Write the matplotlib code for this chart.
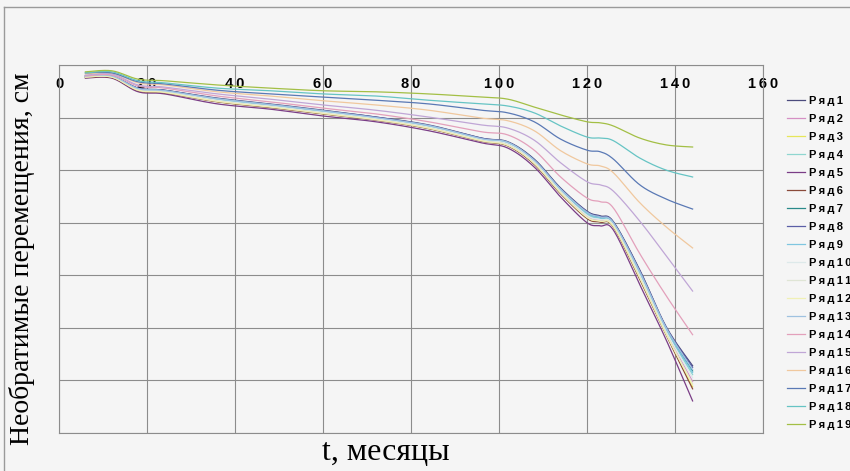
import numpy as np
import matplotlib.pyplot as plt
from matplotlib.lines import Line2D

# months of observation
t = [6, 12, 18, 24, 36, 48, 60, 72, 84, 96, 102, 108, 114, 120, 123, 126, 132, 138, 144]

# irreversible displacement (magnitude, grid units)
ryad1 = [0.21, 0.21, 0.44, 0.48, 0.63, 0.74, 0.86, 0.99, 1.14, 1.39, 1.46, 1.79, 2.34, 2.78, 2.87, 2.98, 3.90, 4.98, 5.72]
ryad2 = [0.23, 0.23, 0.47, 0.51, 0.68, 0.79, 0.91, 1.03, 1.19, 1.43, 1.51, 1.86, 2.42, 2.88, 2.96, 3.05, 4.03, 5.09, 6.02]
ryad3 = [0.23, 0.23, 0.48, 0.52, 0.70, 0.80, 0.93, 1.04, 1.21, 1.44, 1.53, 1.88, 2.44, 2.91, 2.98, 3.08, 4.07, 5.13, 6.12]
ryad4 = [0.22, 0.22, 0.46, 0.50, 0.66, 0.77, 0.89, 1.01, 1.17, 1.41, 1.49, 1.83, 2.38, 2.84, 2.92, 3.02, 3.97, 5.04, 5.89]
ryad5 = [0.25, 0.25, 0.51, 0.55, 0.74, 0.84, 0.97, 1.08, 1.25, 1.48, 1.58, 1.94, 2.51, 3.00, 3.06, 3.14, 4.18, 5.23, 6.39]
ryad6 = [0.24, 0.24, 0.49, 0.53, 0.70, 0.81, 0.93, 1.05, 1.21, 1.45, 1.54, 1.89, 2.45, 2.92, 2.99, 3.08, 4.08, 5.14, 6.16]
ryad7 = [0.22, 0.22, 0.45, 0.49, 0.65, 0.76, 0.88, 1.00, 1.16, 1.40, 1.48, 1.81, 2.37, 2.81, 2.90, 3.00, 3.94, 5.02, 5.82]
ryad8 = [0.21, 0.21, 0.44, 0.48, 0.64, 0.75, 0.87, 0.99, 1.15, 1.39, 1.47, 1.80, 2.35, 2.79, 2.88, 2.99, 3.91, 4.99, 5.75]
ryad9 = [0.22, 0.22, 0.45, 0.49, 0.65, 0.76, 0.88, 1.01, 1.16, 1.41, 1.48, 1.82, 2.37, 2.82, 2.91, 3.01, 3.96, 5.03, 5.85]
ryad10 = [0.22, 0.22, 0.46, 0.50, 0.67, 0.78, 0.90, 1.02, 1.18, 1.42, 1.50, 1.84, 2.40, 2.86, 2.94, 3.04, 4.00, 5.07, 5.95]
ryad11 = [0.23, 0.23, 0.48, 0.52, 0.69, 0.79, 0.92, 1.04, 1.20, 1.44, 1.52, 1.87, 2.43, 2.89, 2.97, 3.06, 4.04, 5.11, 6.06]
ryad12 = [0.23, 0.23, 0.48, 0.52, 0.69, 0.80, 0.92, 1.04, 1.20, 1.44, 1.53, 1.87, 2.43, 2.90, 2.97, 3.07, 4.05, 5.12, 6.09]
ryad13 = [0.21, 0.21, 0.45, 0.49, 0.64, 0.75, 0.87, 1.00, 1.15, 1.40, 1.47, 1.81, 2.36, 2.80, 2.89, 3.00, 3.93, 5.00, 5.79]
ryad14 = [0.21, 0.19, 0.40, 0.44, 0.59, 0.70, 0.82, 0.93, 1.08, 1.27, 1.33, 1.62, 2.13, 2.53, 2.60, 2.72, 3.59, 4.39, 5.13]
ryad15 = [0.19, 0.17, 0.38, 0.42, 0.55, 0.65, 0.76, 0.86, 0.99, 1.14, 1.20, 1.43, 1.86, 2.22, 2.28, 2.40, 2.97, 3.63, 4.30]
ryad16 = [0.17, 0.15, 0.34, 0.38, 0.51, 0.59, 0.68, 0.76, 0.86, 1.01, 1.06, 1.25, 1.63, 1.88, 1.92, 2.05, 2.62, 3.08, 3.48]
ryad17 = [0.15, 0.15, 0.32, 0.36, 0.48, 0.55, 0.61, 0.67, 0.74, 0.86, 0.91, 1.08, 1.41, 1.62, 1.65, 1.79, 2.28, 2.55, 2.74]
ryad18 = [0.15, 0.13, 0.30, 0.34, 0.44, 0.49, 0.55, 0.59, 0.67, 0.74, 0.78, 0.91, 1.16, 1.37, 1.39, 1.44, 1.77, 2.00, 2.13]
ryad19 = [0.13, 0.11, 0.27, 0.30, 0.38, 0.44, 0.49, 0.51, 0.55, 0.61, 0.65, 0.80, 0.95, 1.08, 1.10, 1.16, 1.39, 1.52, 1.56]

series = [ryad1, ryad2, ryad3, ryad4, ryad5, ryad6, ryad7, ryad8, ryad9, ryad10,
          ryad11, ryad12, ryad13, ryad14, ryad15, ryad16, ryad17, ryad18, ryad19]
names = ['Ряд' + str(i) for i in range(1, 20)]
colors = ['#4b4b7d', '#d58fc4', '#e6e65a', '#8fd6d0', '#7a3d86', '#8a4a3a', '#2a8a8a',
          '#5b5ea6', '#7fc6e0', '#dde9ea', '#dfe5d5', '#f0f0b5', '#9fc2e0', '#e3a0bb',
          '#c0a6d6', '#f0c89e', '#5a79b5', '#66c4c4', '#a3bf45']

x_ticks = [0, 20, 40, 60, 80, 100, 120, 140, 160]


# Excel-like smoothed line (uniform Catmull-Rom through the points)
def smooth(x, y, n=16):
    x = np.asarray(x, float)
    y = np.asarray(y, float)
    px = np.concatenate([[x[0]], x, [x[-1]]])
    py = np.concatenate([[y[0]], y, [y[-1]]])
    s = np.linspace(0, 1, n, endpoint=False)[:, None]
    xs, ys = [], []
    for i in range(len(x) - 1):
        for p, out in ((px, xs), (py, ys)):
            p0, p1, p2, p3 = p[i], p[i + 1], p[i + 2], p[i + 3]
            v = 0.5 * (2 * p1 + (p2 - p0) * s + (2 * p0 - 5 * p1 + 4 * p2 - p3) * s ** 2
                       + (3 * p1 - p0 - 3 * p2 + p3) * s ** 3)
            out.append(v.ravel())
    xs.append([x[-1]])
    ys.append([y[-1]])
    return np.concatenate(xs), np.concatenate(ys)


bg = '#f5f5f5'
grid_c = '#8c8c8c'
fig = plt.figure(figsize=(8.5, 4.71), dpi=100, facecolor=bg)
ax = fig.add_axes([59 / 850, 1 - 433 / 471, 704 / 850, 368 / 471], facecolor=bg)

# outer chart frame (top and left edges visible)
fig.add_artist(Line2D([4 / 850, 4 / 850], [0, 1 - 7 / 471], transform=fig.transFigure,
                      color='#9a9a9a', lw=1.0))
fig.add_artist(Line2D([4 / 850, 1], [1 - 7 / 471, 1 - 7 / 471], transform=fig.transFigure,
                      color='#9a9a9a', lw=1.0))

handles = []
for vals, c in zip(series, colors):
    sx, sy = smooth(t, vals)
    line, = ax.plot(sx, sy, color=c, lw=0.9)
    handles.append(line)

ax.set_xlim(0, 160)
ax.set_ylim(7, 0)
ax.set_xticks(x_ticks)
ax.set_xticklabels(['\u2009'.join(str(v)) for v in x_ticks], fontfamily='Liberation Sans',
                   fontweight='bold', fontsize=10.5)
ax.set_yticks(range(0, 8))
ax.set_yticklabels([])
ax.tick_params(axis='x', top=True, labeltop=True, bottom=False, labelbottom=False,
               length=0, pad=-19)
ax.tick_params(axis='y', length=0)
ax.grid(True, color=grid_c, lw=0.8)
for sp in ax.spines.values():
    sp.set_color(grid_c)
    sp.set_linewidth(0.8)

fig.text(22 / 850, 1 - 259 / 471, 'Необратимые перемещения, см', rotation=90,
         ha='center', va='center', fontfamily='Liberation Serif', fontsize=20)
fig.text(386 / 850, 1 - 452 / 471, 't, месяцы', ha='center', va='center',
         fontfamily='Liberation Serif', fontsize=23)

fig.legend(handles, ['\u2009'.join(n) for n in names], loc='upper left',
           bbox_to_anchor=(787 / 850, 1 - 96 / 471), frameon=False,
           prop={'family': 'Liberation Sans', 'weight': 'bold', 'size': 8},
           handlelength=1.6, handletextpad=0.4, labelspacing=0.72, borderpad=0,
           borderaxespad=0)

fig.savefig('out.png', dpi=100, facecolor=bg)
